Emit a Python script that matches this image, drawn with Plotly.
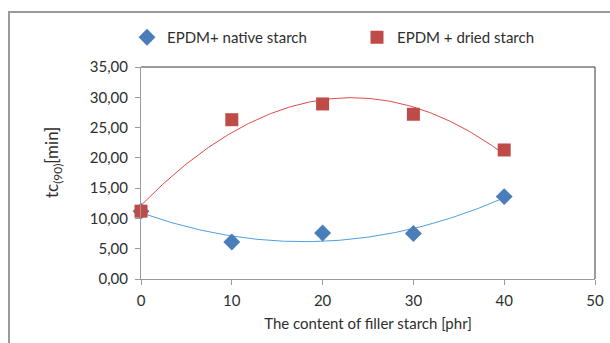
import numpy as np
import plotly.graph_objects as go

# Filler content [phr]
filler_phr = [0, 10, 20, 30, 40]
# Cure time tc(90) [min]
native_starch = [11.2, 6.1, 7.6, 7.5, 13.6]
dried_starch = [11.2, 26.3, 28.9, 27.2, 21.3]

y_ticks = [0, 5, 10, 15, 20, 25, 30, 35]
x_ticks = [0, 10, 20, 30, 40, 50]

FONT = "Lato, 'Open Sans', sans-serif"
TEXT = "#2E2E2E"

# Second-order polynomial trend lines, as fitted by the spreadsheet
xs = np.linspace(min(filler_phr), max(filler_phr), 200)
fit_native = np.polyval(np.polyfit(filler_phr, native_starch, 2), xs)
fit_dried = np.polyval(np.polyfit(filler_phr, dried_starch, 2), xs)

fig = go.Figure()
fig.add_trace(go.Scatter(x=xs, y=fit_native, mode="lines", showlegend=False,
                         line=dict(color="#4F9FDC", width=1), hoverinfo="skip"))
fig.add_trace(go.Scatter(x=xs, y=fit_dried, mode="lines", showlegend=False,
                         line=dict(color="#E0494A", width=1), hoverinfo="skip"))
fig.add_trace(go.Scatter(x=filler_phr, y=native_starch, mode="markers",
                         name="EPDM+ native starch", cliponaxis=False, legend="legend",
                         marker=dict(symbol="diamond", size=13, color="#4A7EBB")))
fig.add_trace(go.Scatter(x=filler_phr, y=dried_starch, mode="markers",
                         name="EPDM + dried starch", cliponaxis=False, legend="legend2",
                         marker=dict(symbol="square", size=13, color="#BE4B48")))

L, R, T, B = 141, 15, 67, 64
W, H = 610, 343
pw, ph = W - L - R, H - T - B

def px_x(p):
    return (p - L) / pw

def px_y(p):
    return 1 - (p - T) / ph

# Outer chart frame (top and left edges are visible)
fig.add_shape(type="path", xref="paper", yref="paper",
              path=f"M {px_x(9)} {px_y(360)} L {px_x(9)} {px_y(12)} L {px_x(630)} {px_y(12)}",
              line=dict(color="#9A9A9A", width=2))
# Plot-area border on top and right
fig.add_shape(type="path", xref="paper", yref="paper",
              path="M 0 1 L 1 1 L 1 0",
              line=dict(color="#3A3A3A", width=1))

# Y-axis title, rotated
fig.add_annotation(text="tc<sub>(90)</sub>[min]", xref="paper", yref="paper",
                   x=px_x(53), y=px_y(163), textangle=-90, showarrow=False,
                   xanchor="center", yanchor="middle",
                   font=dict(size=17, color=TEXT))

legend_style = dict(orientation="h", xanchor="left", yanchor="top",
                    font=dict(size=15, color=TEXT), itemwidth=30,
                    bgcolor="rgba(0,0,0,0)")

fig.update_layout(
    width=W, height=H,
    margin=dict(l=L, r=R, t=T, b=B, pad=0, autoexpand=False),
    paper_bgcolor="white", plot_bgcolor="white",
    separators=",.",
    font=dict(family=FONT, size=15, color=TEXT),
    showlegend=True,
    legend=dict(x=px_x(127), y=px_y(21), **legend_style),
    legend2=dict(x=px_x(357), y=px_y(21), **legend_style),
    xaxis=dict(range=[0, 50], tickvals=x_ticks, ticks="outside", ticklen=5,
               tickcolor="#9A9A9A", showline=True, linecolor="#9A9A9A", linewidth=1,
               showgrid=False, zeroline=False, ticklabelstandoff=3, automargin=False,
               title=dict(text="The content of filler starch [phr]", standoff=10,
                          font=dict(size=15, color=TEXT))),
    yaxis=dict(range=[0, 35], tickvals=y_ticks, tickformat=".2f", ticks="outside",
               ticklen=5, tickcolor="#9A9A9A", showline=True, linecolor="#9A9A9A",
               linewidth=1, showgrid=False, zeroline=False, ticklabelstandoff=4,
               automargin=False),
)

fig.write_html("out.html")
